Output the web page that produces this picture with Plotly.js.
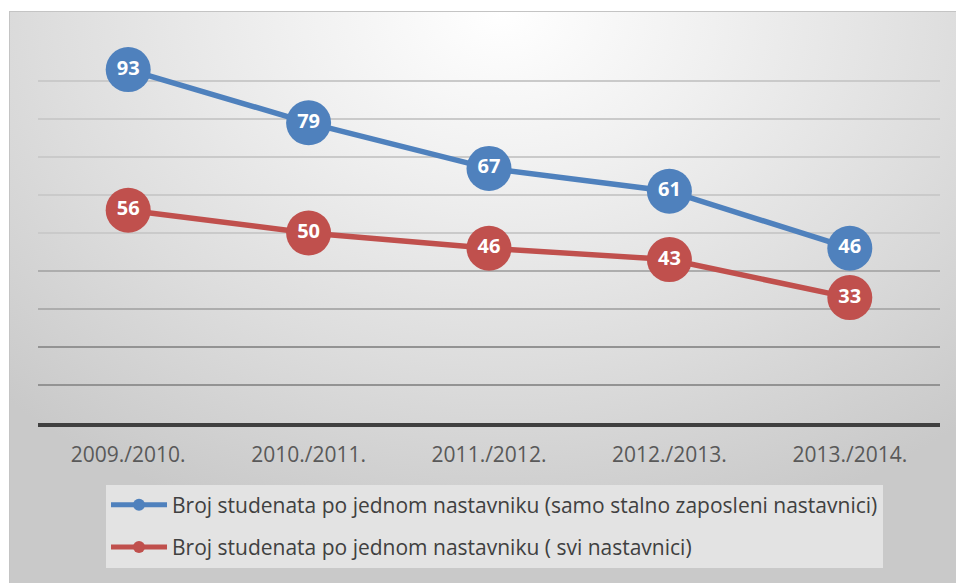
<!DOCTYPE html>
<html>
<head>
<meta charset="utf-8">
<script src="https://cdn.plot.ly/plotly-3.0.1.min.js"></script>
<style>
  html, body { margin: 0; padding: 0; background: #ffffff; }
  #wrap { position: relative; width: 956px; height: 583px; overflow: hidden; }
  #bg { position: absolute; left: 9px; top: 11px; width: 947px; height: 572px;
        background: radial-gradient(ellipse 75% 95% at 52% 0%, #ffffff 0%, #f0f0f0 30%, #dddddd 65%, #c9c9c9 100%);
        border-top: 1px solid #c4c4c4; border-left: 1px solid #c4c4c4; box-sizing: border-box; }
  #chart { position: absolute; left: 0; top: 0; width: 956px; height: 583px; }
</style>
</head>
<body>
<div id="wrap">
  <div id="bg"></div>
  <div id="chart"></div>
</div>
<script>
const categories = ["2009./2010.", "2010./2011.", "2011./2012.", "2012./2013.", "2013./2014."];
const seriesStalni = [93, 79, 67, 61, 46];
const seriesSvi = [56, 50, 46, 43, 33];
const seriesNames = [
  "Broj studenata po jednom nastavniku (samo stalno zaposleni nastavnici)",
  "Broj studenata po jednom nastavniku ( svi nastavnici)"
];
const gridDark = [10, 20];
const gridMid = [30, 40];
const gridLight = [50, 60, 70, 80, 90, 100];

const FONT = "'Open Sans', sans-serif";

function lineTrace(values, name, color, group) {
  return {
    x: categories, y: values, name: name, type: "scatter",
    mode: "lines+markers+text",
    text: values.map(String), textposition: "middle center",
    textfont: { family: FONT, size: 20, color: "#ffffff", weight: "bold" },
    line: { color: color, width: 5.5 },
    marker: { color: color, size: 45 },
    cliponaxis: false, legendgroup: group,
    hoverinfo: "x+y"
  };
}

const data = [
  lineTrace(seriesStalni, seriesNames[0], "#4f81bd", "a"),
  lineTrace(seriesSvi, seriesNames[1], "#c0504d", "b")
];

const baseY = { range: [0, 100], showticklabels: false, zeroline: false, showline: false, ticks: "", tickmode: "array", gridwidth: 1.8, fixedrange: true };

const layout = {
  width: 956, height: 583,
  margin: { l: 38, r: 16, t: 43, b: 160 },
  paper_bgcolor: "rgba(0,0,0,0)",
  plot_bgcolor: "rgba(0,0,0,0)",
  showlegend: true,
  xaxis: {
    type: "category", range: [-0.5, 4.5],
    showline: true, linecolor: "#404040", linewidth: 3.5,
    showgrid: false, zeroline: false, ticks: "",
    tickfont: { family: FONT, size: 21, color: "#595959" },
    ticklabelstandoff: 10
  },
  yaxis: Object.assign({}, baseY, { tickvals: gridDark, gridcolor: "#939393" }),
  yaxis2: Object.assign({}, baseY, { overlaying: "y", tickvals: gridMid, gridcolor: "#adadad" }),
  yaxis3: Object.assign({}, baseY, { overlaying: "y", tickvals: gridLight, gridcolor: "#cacaca" }),
  legend: {
    x: 0.0754, y: -0.162, xanchor: "left", yanchor: "top",
    orientation: "v", bgcolor: "#e3e3e3", borderwidth: 0,
    font: { family: FONT, size: 21, color: "#404040" },
    traceorder: "grouped", tracegroupgap: 12, itemsizing: "constant",
    itemwidth: 56
  }
};

// invisible helper traces so overlay grid axes are drawn
data.push({ x: [categories[0]], y: [null], yaxis: "y2", showlegend: false, hoverinfo: "skip", type: "scatter", mode: "markers" });
data.push({ x: [categories[0]], y: [null], yaxis: "y3", showlegend: false, hoverinfo: "skip", type: "scatter", mode: "markers" });

Plotly.newPlot("chart", data, layout, { displayModeBar: false, staticPlot: true });
</script>
</body>
</html>
